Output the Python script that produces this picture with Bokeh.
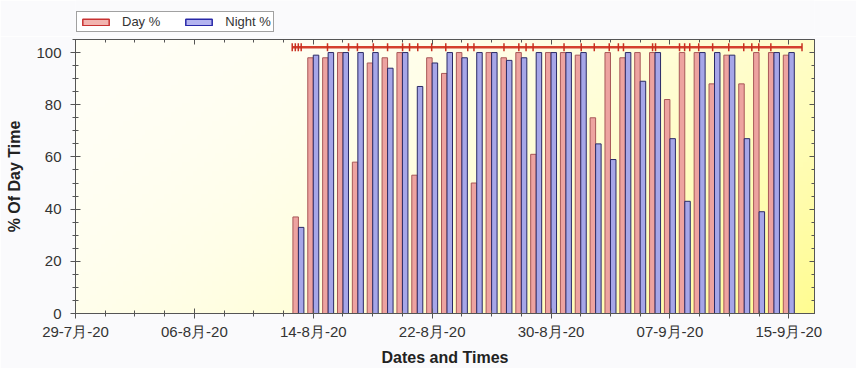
import numpy as np
import pandas as pd
from bokeh.plotting import figure
from bokeh.layouts import column
from bokeh.models import (FixedTicker, DatetimeAxis, LinearAxis, Legend, LegendItem,
                          Range1d, ColumnDataSource, CustomJSTickFormatter)
from bokeh.embed import file_html
from bokeh.resources import INLINE

# ---------------- data ----------------
dates = ["2020-08-13", "2020-08-14", "2020-08-15", "2020-08-16", "2020-08-17", "2020-08-18",
         "2020-08-19", "2020-08-20", "2020-08-21", "2020-08-22", "2020-08-23", "2020-08-24",
         "2020-08-25", "2020-08-26", "2020-08-27", "2020-08-28", "2020-08-29", "2020-08-30",
         "2020-08-31", "2020-09-01", "2020-09-02", "2020-09-03", "2020-09-04", "2020-09-05",
         "2020-09-06", "2020-09-07", "2020-09-08", "2020-09-09", "2020-09-10", "2020-09-11",
         "2020-09-12", "2020-09-13", "2020-09-14", "2020-09-15"]
day_pct = [37, 98, 98, 100, 58, 96, 98, 100, 53, 98, 92, 100, 50, 100, 98, 100, 61, 100,
           100, 99, 75, 100, 98, 100, 100, 82, 100, 100, 88, 99, 88, 100, 100, 99]
night_pct = [33, 99, 100, 100, 100, 100, 94, 100, 87, 96, 100, 98, 100, 100, 97, 98, 100, 100,
             100, 100, 65, 59, 100, 89, 100, 67, 43, 100, 100, 99, 67, 39, 100, 100]

# time stamps of the red timeline markers
marker_times = ["2020-08-12 14:00", "2020-08-12 19:00", "2020-08-12 23:50", "2020-08-13 04:30",
                "2020-08-14 23:00", "2020-08-16 09:00", "2020-08-16 23:20", "2020-08-18 01:00",
                "2020-08-19 00:00", "2020-08-20 00:15", "2020-08-20 11:30", "2020-08-21 00:45",
                "2020-08-21 23:15", "2020-08-22 22:00", "2020-08-24 09:30", "2020-08-24 19:30",
                "2020-08-26 20:00", "2020-08-27 20:00", "2020-08-28 07:40", "2020-08-28 19:00",
                "2020-08-30 21:00", "2020-09-01 00:45", "2020-09-01 21:50", "2020-09-02 22:00",
                "2020-09-03 12:45", "2020-09-03 21:00", "2020-09-05 20:00", "2020-09-06 00:45",
                "2020-09-07 15:30", "2020-09-07 23:45", "2020-09-08 08:00", "2020-09-08 22:30",
                "2020-09-09 21:00", "2020-09-10 23:00", "2020-09-11 23:15", "2020-09-12 12:15",
                "2020-09-12 23:30", "2020-09-13 19:00", "2020-09-15 21:20"]
marker_level = 102

tick_dates = ["2020-07-29", "2020-08-06", "2020-08-14", "2020-08-22", "2020-08-30",
              "2020-09-07", "2020-09-15"]
tick_labels = ["29-7月-20", "06-8月-20", "14-8月-20", "22-8月-20", "30-8月-20",
               "07-9月-20", "15-9月-20"]
y_ticks = [0, 20, 40, 60, 80, 100]

x_start = "2020-07-29 00:00"
x_end = "2020-09-16 17:30"
y_max = 105

# ---------------- helpers ----------------
DAY = 86400000.0
FONT = "Liberation Sans"
BG = "#FAFAFC"
DAY_FILL, DAY_LINE = "#EDA3A0", "#A85858"
NIGHT_FILL, NIGHT_LINE = "#A6A6E8", "#2A2A66"


def ms(s):
    return float(pd.Timestamp(s).value / 1e6)


x0, x1 = ms(x_start), ms(x_end)
date_ms = [ms(d) for d in dates]
bar_w = 0.37 * DAY
off = 0.185 * DAY

src_day = ColumnDataSource(dict(x=[d - off for d in date_ms], top=day_pct))
src_night = ColumnDataSource(dict(x=[d + off for d in date_ms], top=night_pct))
mk = ColumnDataSource(dict(x=[ms(t) for t in marker_times], y=[marker_level] * len(marker_times)))

# ---------------- legend strip ----------------
lf = figure(width=856, height=36, x_range=Range1d(0, 1), y_range=Range1d(0, 1),
            output_backend="svg", toolbar_location=None,
            x_axis_location=None, y_axis_location=None, min_border=0,
            border_fill_color=BG, background_fill_color=BG, outline_line_color=None)
lf.grid.visible = False
# swatch renderers: tiny boxes hidden behind the opaque legend box
ld = lf.vbar(x=[0.1], top=[0.5], bottom=[0.4], width=0.005, fill_color="#F2B4B0",
             line_color="#C83232", line_width=1.5)
ln = lf.vbar(x=[0.2], top=[0.5], bottom=[0.4], width=0.005, fill_color="#B4B4F0",
             line_color="#2828A8", line_width=1.5)
legend = Legend(items=[LegendItem(label="Day %", renderers=[ld]),
                       LegendItem(label="Night %", renderers=[ln])],
                orientation="horizontal", location=(1, 4),
                glyph_width=33, glyph_height=8, label_height=10,
                label_standoff=10, spacing=22, padding=2, margin=0,
                label_text_font=FONT, label_text_font_size="13px",
                label_text_color="#333333",
                border_line_color="#444444", border_line_width=1,
                background_fill_color="#FFFFFF", background_fill_alpha=1)
lf.add_layout(legend)

# ---------------- main plot ----------------
p = figure(width=856, height=332, x_axis_type="datetime",
           x_range=Range1d(x0, x1), y_range=Range1d(0, y_max),
           output_backend="svg", toolbar_location=None,
           min_border_left=75, min_border_right=42, min_border_top=3, min_border_bottom=52,
           border_fill_color=BG, background_fill_color="#FFFFF0")
p.grid.visible = False
p.outline_line_color = "#555555"

# background gradient (white top-left -> yellow bottom-right)
nx, ny = 200, 60
xf = np.linspace(0, 1, nx)[None, :]
yf = np.linspace(0, 1, ny)[:, None]  # row 0 = bottom
t = np.clip(0.68 * xf + 0.32 * (1 - yf), 0, 1) ** 2
img = np.empty((ny, nx), dtype=np.uint32)
view = img.view(dtype=np.uint8).reshape((ny, nx, 4))
view[:, :, 0] = 255
view[:, :, 1] = (255 - 3 * t).astype(np.uint8)
view[:, :, 2] = (246 - 100 * t).astype(np.uint8)
view[:, :, 3] = 255
p.image_rgba(image=[img], x=x0, y=0, dw=x1 - x0, dh=y_max, level="image")

# bars
r_day = p.vbar(x="x", top="top", width=bar_w, bottom=0, source=src_day,
               fill_color=DAY_FILL, line_color=DAY_LINE, line_width=1)
r_night = p.vbar(x="x", top="top", width=bar_w, bottom=0, source=src_night,
                 fill_color=NIGHT_FILL, line_color=NIGHT_LINE, line_width=1)

# red timeline
p.line(x="x", y="y", source=mk, line_color="#D4402E", line_width=2.5)
p.scatter(x="x", y="y", source=mk, marker="dash", angle=np.pi / 2, size=8,
          line_color="#C83020", line_width=1.5)

# axes
tick_ms = [ms(d) for d in tick_dates]
minor_ms = [float(v) for v in np.arange(x0, x1, 2 * DAY)]
xticker = FixedTicker(ticks=tick_ms, minor_ticks=minor_ms)
yticker = FixedTicker(ticks=y_ticks, minor_ticks=list(range(0, y_max + 1, 5)))

xa = p.xaxis[0]
xa.ticker = xticker
xa.major_label_overrides = {tm: lab for tm, lab in zip(tick_ms, tick_labels)}
ya = p.yaxis[0]
ya.ticker = yticker

for ax in (xa, ya):
    ax.axis_line_color = "#555555"
    ax.major_tick_line_color = "#555555"
    ax.minor_tick_line_color = "#555555"
    ax.major_tick_in = 5
    ax.major_tick_out = 5
    ax.minor_tick_in = 3
    ax.minor_tick_out = 3
    ax.major_label_text_font = FONT
    ax.major_label_text_font_size = "15px"
    ax.major_label_text_color = "#333333"
    ax.axis_label_text_font = FONT
    ax.axis_label_text_font_size = "16px"
    ax.axis_label_text_font_style = "bold"
    ax.axis_label_text_color = "#222222"

xa.axis_label = "Dates and Times"
xa.major_label_standoff = 4
xa.axis_label_standoff = 6
ya.axis_label = "% Of Day Time"
ya.major_label_standoff = 9
ya.axis_label_standoff = 10

blank = CustomJSTickFormatter(code="return ''")
top_ax = DatetimeAxis(ticker=xticker, formatter=blank)
right_ax = LinearAxis(ticker=yticker, formatter=blank)
for ax in (top_ax, right_ax):
    ax.major_label_standoff = 0
    ax.axis_line_color = "#555555"
    ax.major_tick_line_color = "#555555"
    ax.minor_tick_line_color = "#555555"
    ax.major_tick_in = 5
    ax.major_tick_out = 0
    ax.minor_tick_in = 3
    ax.minor_tick_out = 0
p.add_layout(top_ax, "above")
p.add_layout(right_ax, "right")

layout = column(lf, p, spacing=0)
open("out.html", "w").write(file_html(layout, INLINE))
